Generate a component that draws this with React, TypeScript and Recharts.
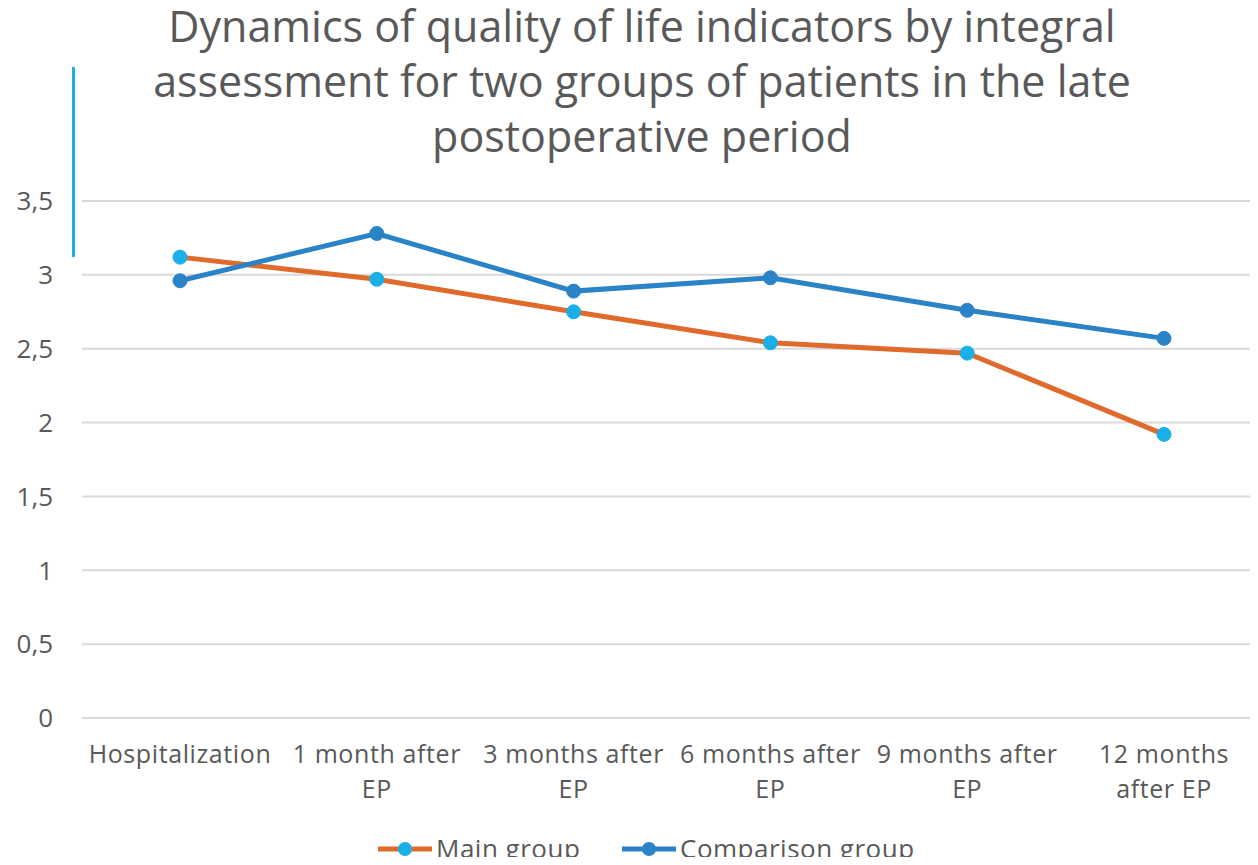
import React from "react";
import { LineChart, Line, XAxis, YAxis, CartesianGrid, Legend } from "recharts";

const categories = [
  "Hospitalization",
  "1 month after EP",
  "3 months after EP",
  "6 months after EP",
  "9 months after EP",
  "12 months after EP",
];

const tickLines: string[][] = [
  ["Hospitalization"],
  ["1 month after", "EP"],
  ["3 months after", "EP"],
  ["6 months after", "EP"],
  ["9 months after", "EP"],
  ["12 months", "after EP"],
];

const mainGroup = [3.12, 2.97, 2.75, 2.54, 2.47, 1.92];
const comparisonGroup = [2.96, 3.28, 2.89, 2.98, 2.76, 2.57];

const yTicks = [0, 0.5, 1, 1.5, 2, 2.5, 3, 3.5];

const titleLines = [
  "Dynamics of quality of life indicators by integral",
  "assessment for two groups of patients in the late",
  "postoperative period",
];

const data = categories.map((name, i) => ({
  name,
  main: mainGroup[i],
  comparison: comparisonGroup[i],
}));

const FONT = "'Open Sans', sans-serif";
const TEXT = "#595959";
const ORANGE = "#E06A2B";
const BLUE = "#2A82C7";
const LIGHT_BLUE = "#1AAFE6";

function XTick(props: any) {
  const { x, y, payload } = props;
  const lines = tickLines[payload.index] ?? [payload.value];
  return (
    <text x={x} y={y} textAnchor="middle" fill={TEXT} fontSize={25} letterSpacing={0.6} fontFamily={FONT}>
      {lines.map((l, i) => (
        <tspan key={i} x={x} dy={i === 0 ? 37 : 35}>
          {l}
        </tspan>
      ))}
    </text>
  );
}

function LegendContent() {
  const items = [
    { label: "Main group", line: ORANGE, dot: LIGHT_BLUE },
    { label: "Comparison group", line: BLUE, dot: BLUE },
  ];
  return (
    <svg width={1262} height={37} style={{ display: "block" }}>
      {items.map((it, i) => {
        const x0 = i === 0 ? 378 : 622;
        return (
          <g key={it.label}>
            <line x1={x0} y1={21} x2={x0 + 54} y2={21} stroke={it.line} strokeWidth={5} />
            <circle cx={x0 + 27} cy={21} r={7} fill={it.dot} />
            <text x={x0 + 58} y={30} fill={TEXT} fontSize={26} letterSpacing={0.5} fontFamily={FONT}>
              {it.label}
            </text>
          </g>
        );
      })}
    </svg>
  );
}

export default function App() {
  return (
    <div style={{ position: "relative", width: 1258, height: 865, margin: -8, overflow: "hidden", background: "#fff" }}>
      <svg width={1258} height={260} style={{ position: "absolute", top: 0, left: 0, zIndex: 2, pointerEvents: "none" }}>
        {titleLines.map((t, i) => (
          <text key={t} x={642} y={42 + i * 55} textAnchor="middle" fill={TEXT} fontSize={43} fontFamily={FONT}>
            {t}
          </text>
        ))}
        <rect x={72} y={67} width={3} height={190} fill={LIGHT_BLUE} />
      </svg>
      <LineChart width={1262} height={865} data={data} margin={{ top: 201, right: 0, bottom: 0, left: 0 }}>
        <CartesianGrid vertical={false} stroke="#D9D9D9" strokeWidth={2} />
        <XAxis
          dataKey="name"
          axisLine={{ stroke: "#D9D9D9", strokeWidth: 2 }}
          tickLine={false}
          tick={<XTick />}
          height={110}
          interval={0}
          padding={{ left: 98, right: 98 }}
        />
        <YAxis
          domain={[0, 3.5]}
          ticks={yTicks}
          width={82}
          axisLine={false}
          tickLine={false}
          tickSize={0}
          tickMargin={29}
          tickFormatter={(v: number) => String(v).replace(".", ",")}
          tick={{ fill: TEXT, fontSize: 26, fontFamily: FONT }}
        />
        <Legend verticalAlign="bottom" align="left" height={37} content={<LegendContent />} />
        <Line
          dataKey="main"
          name="Main group"
          stroke={ORANGE}
          strokeWidth={5}
          dot={{ r: 7, fill: LIGHT_BLUE, stroke: LIGHT_BLUE, strokeWidth: 1 }}
          isAnimationActive={false}
        />
        <Line
          dataKey="comparison"
          name="Comparison group"
          stroke={BLUE}
          strokeWidth={5}
          dot={{ r: 7, fill: BLUE, stroke: BLUE, strokeWidth: 1 }}
          isAnimationActive={false}
        />
      </LineChart>
    </div>
  );
}
